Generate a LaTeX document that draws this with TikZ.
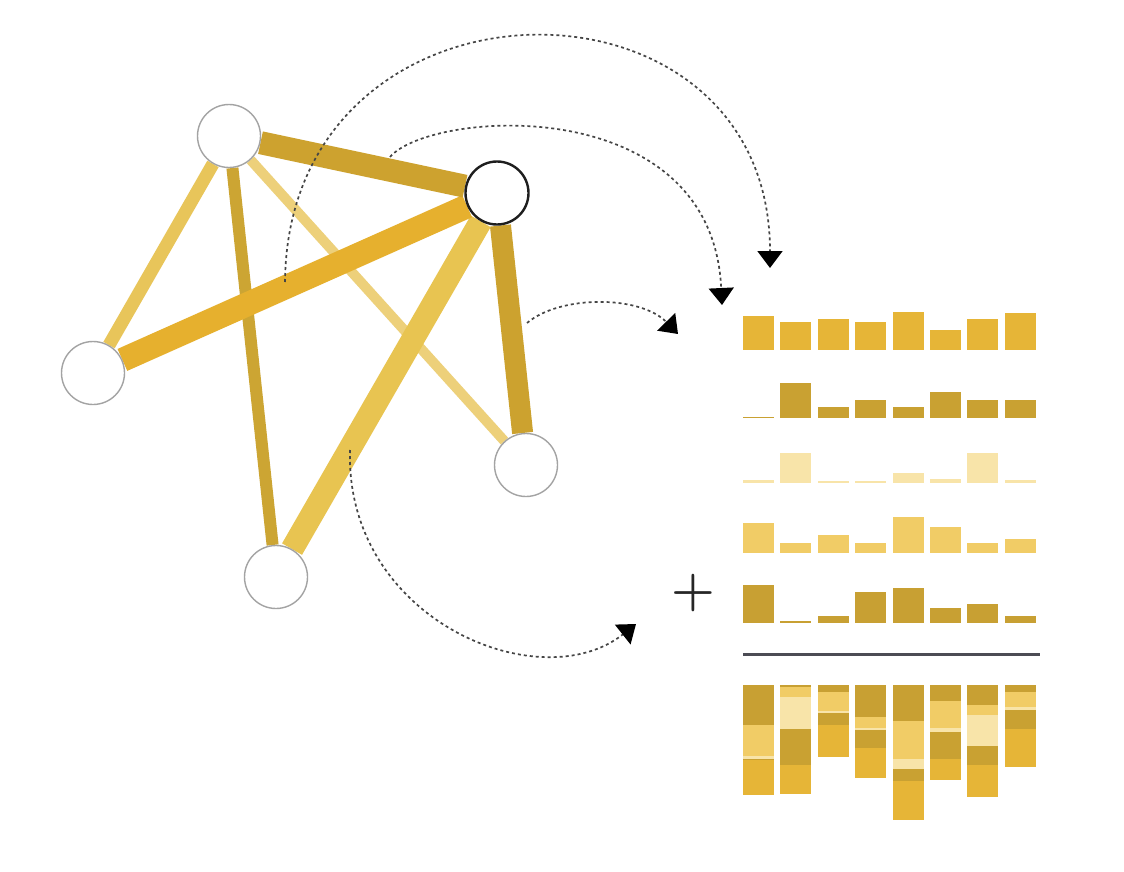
\documentclass[tikz,border=0pt]{standalone}
\usetikzlibrary{arrows.meta,backgrounds}
\definecolor{nodegray}{HTML}{A3A3A3}
\definecolor{nodeblack}{HTML}{1E1E1E}
\definecolor{flowgray}{HTML}{454545}
\definecolor{eAB}{HTML}{CDA22F}
\definecolor{eCB}{HTML}{E6B02E}
\definecolor{eAC}{HTML}{E8C55A}
\definecolor{eAE}{HTML}{CCA533}
\definecolor{eAD}{HTML}{EDD07A}
\definecolor{eBE}{HTML}{E8C451}
\definecolor{eBD}{HTML}{CCA22F}
\definecolor{cA}{HTML}{E6B537}
\definecolor{cB}{HTML}{C9A132}
\definecolor{cC}{HTML}{F8E4A9}
\definecolor{cD}{HTML}{F1CC66}
\definecolor{cE}{HTML}{C8A033}
\definecolor{rulegray}{HTML}{4C4C54}
\begin{document}
\begin{tikzpicture}[x=1pt,y=-1pt,
  vert/.style={circle,draw=nodegray,line width=1.4pt,fill=white,minimum size=63pt,inner sep=0pt},
  focus/.style={vert,draw=nodeblack,line width=2.4pt},
  edge/.style={line cap=butt},
  flow/.style={draw=flowgray,line width=1.7pt,dash pattern=on 3pt off 3pt,
    -{Triangle[length=17pt,width=25pt,black]}},
]
\useasboundingbox (0,0) rectangle (1124,872);
% vertices
\node[vert]  (A) at (229,136) {};
\node[focus] (B) at (497,193) {};
\node[vert]  (C) at (93,373) {};
\node[vert]  (D) at (526,465) {};
\node[vert]  (E) at (276,577) {};
% edges behind the vertices
\begin{pgfonlayer}{background}
\fill[white] (0,0) rectangle (1124,872);
\draw[edge,eAC,line width=13pt] (A) -- (C);
\draw[edge,eAE,line width=12pt] (A) -- (E);
\draw[edge,eAD,line width=10pt] (A) -- (D);
\draw[edge,eBD,line width=21pt] (B) -- (D);
\draw[edge,eBE,line width=23pt] (B) -- (E);
\draw[edge,eCB,line width=24pt] (C) -- (B);
\draw[edge,eAB,line width=23pt] (A) -- (B);
\end{pgfonlayer}
% flow arrows
\coordinate (s1) at (285,282); \coordinate (t1) at (770,268);
\coordinate (s2) at (390,157); \coordinate (t2) at (722,305);
\coordinate (s3) at (527,323); \coordinate (t3) at (678,334);
\coordinate (s4) at (350,450); \coordinate (t4) at (636,624);
\draw[flow] (s1) .. controls (288,-40) and (770,-45) .. (t1);
\draw[flow] (s2) .. controls (430,110) and (712,90) .. (t2);
\draw[flow] (s3) .. controls (560,295) and (640,295) .. (t3);
\draw[flow] (s4) .. controls (345,620) and (540,700) .. (t4);
% bar rows
\foreach \h [count=\i from 0] in {34,28,31,28,38,20,31,37}
  \fill[cA] ({743+37.4*\i},350) rectangle ++(31,-\h);
\foreach \h [count=\i from 0] in {1.5,35,11,18,11,26,18,18}
  \fill[cB] ({743+37.4*\i},418) rectangle ++(31,-\h);
\foreach \h [count=\i from 0] in {3,30,2,2,10,4,30,3}
  \fill[cC] ({743+37.4*\i},483) rectangle ++(31,-\h);
\foreach \h [count=\i from 0] in {30,10,18,10,36,26,10,14}
  \fill[cD] ({743+37.4*\i},553) rectangle ++(31,-\h);
\foreach \h [count=\i from 0] in {38,2,7,31,35,15,19,7}
  \fill[cE] ({743+37.4*\i},623) rectangle ++(31,-\h);
% plus sign
\node[text=black!85,font=\fontsize{50}{50}\selectfont\bfseries,inner sep=0pt] (plus) at (693,593) {+};
% rule
\draw[rulegray,line width=3pt] (743,654) -- (1040,654);
% stacked sum
\foreach \a/\b/\c/\d/\e [count=\i from 0] in
  {38/30/3/1/34, 2/10/30/35/28, 7/18/2/11/31, 31/10/2/18/28,
   35/36/10/11/38, 15/26/4/26/20, 19/10/30/18/31, 7/14/3/18/37}{
  \pgfmathsetmacro\xx{743+37.4*\i}
  \pgfmathsetmacro\xr{\xx+31}
  \pgfmathsetmacro\ya{685+1.04*\a}
  \pgfmathsetmacro\yb{\ya+1.04*\b}
  \pgfmathsetmacro\yc{\yb+1.04*\c}
  \pgfmathsetmacro\yd{\yc+1.04*\d}
  \pgfmathsetmacro\ye{\yd+1.04*\e}
  \fill[cE] (\xx,685) rectangle (\xr,\ya);
  \fill[cD] (\xx,\ya) rectangle (\xr,\yb);
  \fill[cC] (\xx,\yb) rectangle (\xr,\yc);
  \fill[cB] (\xx,\yc) rectangle (\xr,\yd);
  \fill[cA] (\xx,\yd) rectangle (\xr,\ye);
}
\end{tikzpicture}
\end{document}
